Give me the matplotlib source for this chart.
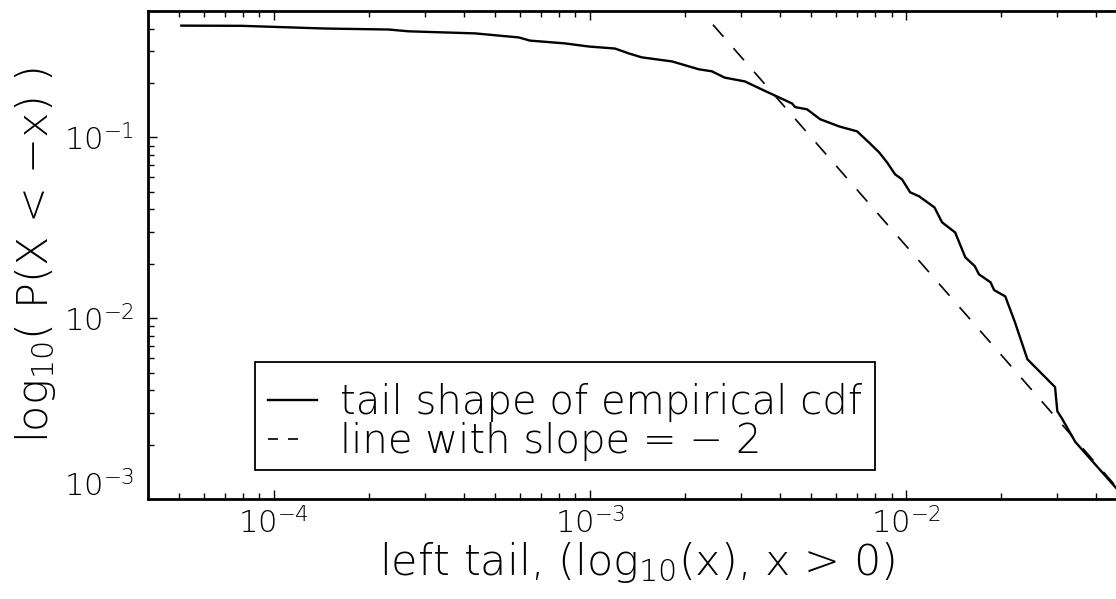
import math
import matplotlib
matplotlib.use("Agg")
import matplotlib.pyplot as plt
import matplotlib.font_manager as fm
from matplotlib.lines import Line2D
from matplotlib.patches import Rectangle
from matplotlib.transforms import ScaledTranslation
from matplotlib.ticker import LogLocator, NullFormatter

# pick a thin, wide sans font
avail = {(f.name, f.weight) for f in fm.fontManager.ttflist}
def has(name, maxw):
    return any(n == name and (w if isinstance(w, int) else 400) <= maxw for n, w in avail)
if has('DejaVu Sans', 250):
    FAM, WT = 'DejaVu Sans', 200
elif has('Open Sans', 320):
    FAM, WT = 'Open Sans', 300
elif has('Noto Sans', 320):
    FAM, WT = 'Noto Sans', 300
else:
    FAM, WT = 'DejaVu Sans', 400

plt.rcParams['font.family'] = [FAM, 'DejaVu Sans']
plt.rcParams['font.weight'] = WT
plt.rcParams['axes.labelweight'] = WT
plt.rcParams['lines.scale_dashes'] = False
plt.rcParams['axes.unicode_minus'] = True

# empirical tail cdf
tail_x = [5.1e-5, 7.9e-5, 1.45e-4, 2.31e-4, 2.67e-4, 4.33e-4, 5.96e-4, 6.46e-4,
          8.33e-4, 9.93e-4, 1.20e-3, 1.33e-3, 1.46e-3, 1.82e-3, 2.21e-3, 2.43e-3,
          2.67e-3, 3.09e-3, 3.50e-3, 4.36e-3, 4.46e-3, 4.86e-3, 5.35e-3, 6.14e-3,
          7.00e-3, 7.63e-3, 8.22e-3, 8.71e-3, 9.23e-3, 9.71e-3, 1.03e-2, 1.10e-2,
          1.23e-2, 1.30e-2, 1.43e-2, 1.54e-2, 1.65e-2, 1.70e-2, 1.85e-2, 1.90e-2,
          2.06e-2, 2.21e-2, 2.42e-2, 2.96e-2, 3.01e-2, 3.12e-2, 3.43e-2, 4.66e-2,
          5.0e-2]
tail_p = [0.415, 0.414, 0.400, 0.395, 0.386, 0.376, 0.357, 0.343,
          0.331, 0.318, 0.310, 0.291, 0.277, 0.263, 0.238, 0.232,
          0.214, 0.204, 0.184, 0.154, 0.147, 0.143, 0.126, 0.115,
          0.108, 0.0938, 0.0826, 0.0727, 0.0625, 0.0586, 0.0497, 0.0472,
          0.0410, 0.0339, 0.0298, 0.0217, 0.0194, 0.0175, 0.0158, 0.0143,
          0.0132, 0.00951, 0.00593, 0.00416, 0.00306, 0.00277, 0.00207, 0.00113,
          0.00098]

# reference line with slope -2 (endpoints)
ref_x = [2.45e-3, 5.0e-2]
ref_p = [0.42, 1.0e-3]

labels = ['tail shape of empirical cdf', 'line with slope = \u2212 2']

W, H = 1116, 599
fig = plt.figure(figsize=(W / 100, H / 100), dpi=100)
L, R, T, B = 148, 1127, 11, 499
ax = fig.add_axes([L / W, 1 - B / H, (R - L) / W, (B - T) / H])

ax.plot(tail_x, tail_p, color='black', lw=1.7, solid_joinstyle='round')
ax.plot(ref_x, ref_p, color='black', lw=1.2, dashes=(11.5, 11.0))

ax.set_xscale('log')
ax.set_yscale('log')
ax.set_xlim(4e-5, 5e-2)
ax.set_ylim(1e-3, 0.5)

ax.xaxis.set_major_locator(LogLocator(base=10, numticks=10))
ax.yaxis.set_major_locator(LogLocator(base=10, numticks=10))
ax.xaxis.set_minor_locator(LogLocator(base=10, subs=range(2, 10), numticks=20))
ax.yaxis.set_minor_locator(LogLocator(base=10, subs=range(2, 10), numticks=20))
ax.xaxis.set_minor_formatter(NullFormatter())
ax.yaxis.set_minor_formatter(NullFormatter())

for s in ax.spines.values():
    s.set_linewidth(2.0)

ax.tick_params(which='both', direction='in', top=True, right=False, width=1.0)
ax.tick_params(which='major', length=6.5)
ax.tick_params(which='minor', length=4.3)
ax.tick_params(axis='x', which='major', labelsize=22, pad=6)
ax.tick_params(axis='y', which='major', labelsize=22, pad=10)

ax.set_xlabel(r'left tail, (log$_{\mathregular{10}}$(x), x > 0)', fontsize=31, labelpad=0)
ax.set_ylabel(r'log$_{\mathregular{10}}$( P(X < $\mathregular{-}$x) )', fontsize=31, labelpad=4)

# lift the bottom y tick label a little, as in the reference
fig.canvas.draw()
locs = ax.yaxis.get_majorticklocs()
for loc, tk in zip(locs, ax.yaxis.get_major_ticks(len(locs))):
    if abs(math.log10(loc) + 3) < 0.01:
        tk.label1.set_transform(tk.label1.get_transform()
                                + ScaledTranslation(0, 0.16, fig.dpi_scale_trans))

# legend frame drawn separately (text sits low in the box in the reference)
fig.patches.append(Rectangle((255 / W, 1 - 470 / H), (875 - 255) / W, (470 - 362) / H,
                             transform=fig.transFigure, fill=True, facecolor='white',
                             edgecolor='black', lw=1.3, zorder=4))
handles = [Line2D([], [], color='black', lw=1.7),
           Line2D([], [], color='black', lw=1.2, dashes=(7.2, 7.2, 7.2, 60))]
leg = ax.legend(handles, labels, loc='upper left',
                bbox_to_anchor=(256 / W, 1 - 371 / H), bbox_transform=fig.transFigure,
                borderaxespad=0, fontsize=29, handlelength=1.22, handletextpad=0.57,
                borderpad=0.3, labelspacing=0.0, frameon=False)
leg.set_zorder(5)
fig.legends = []
ax.legend_ = None
fig.add_artist(leg)

fig.savefig('out.png', dpi=100)
